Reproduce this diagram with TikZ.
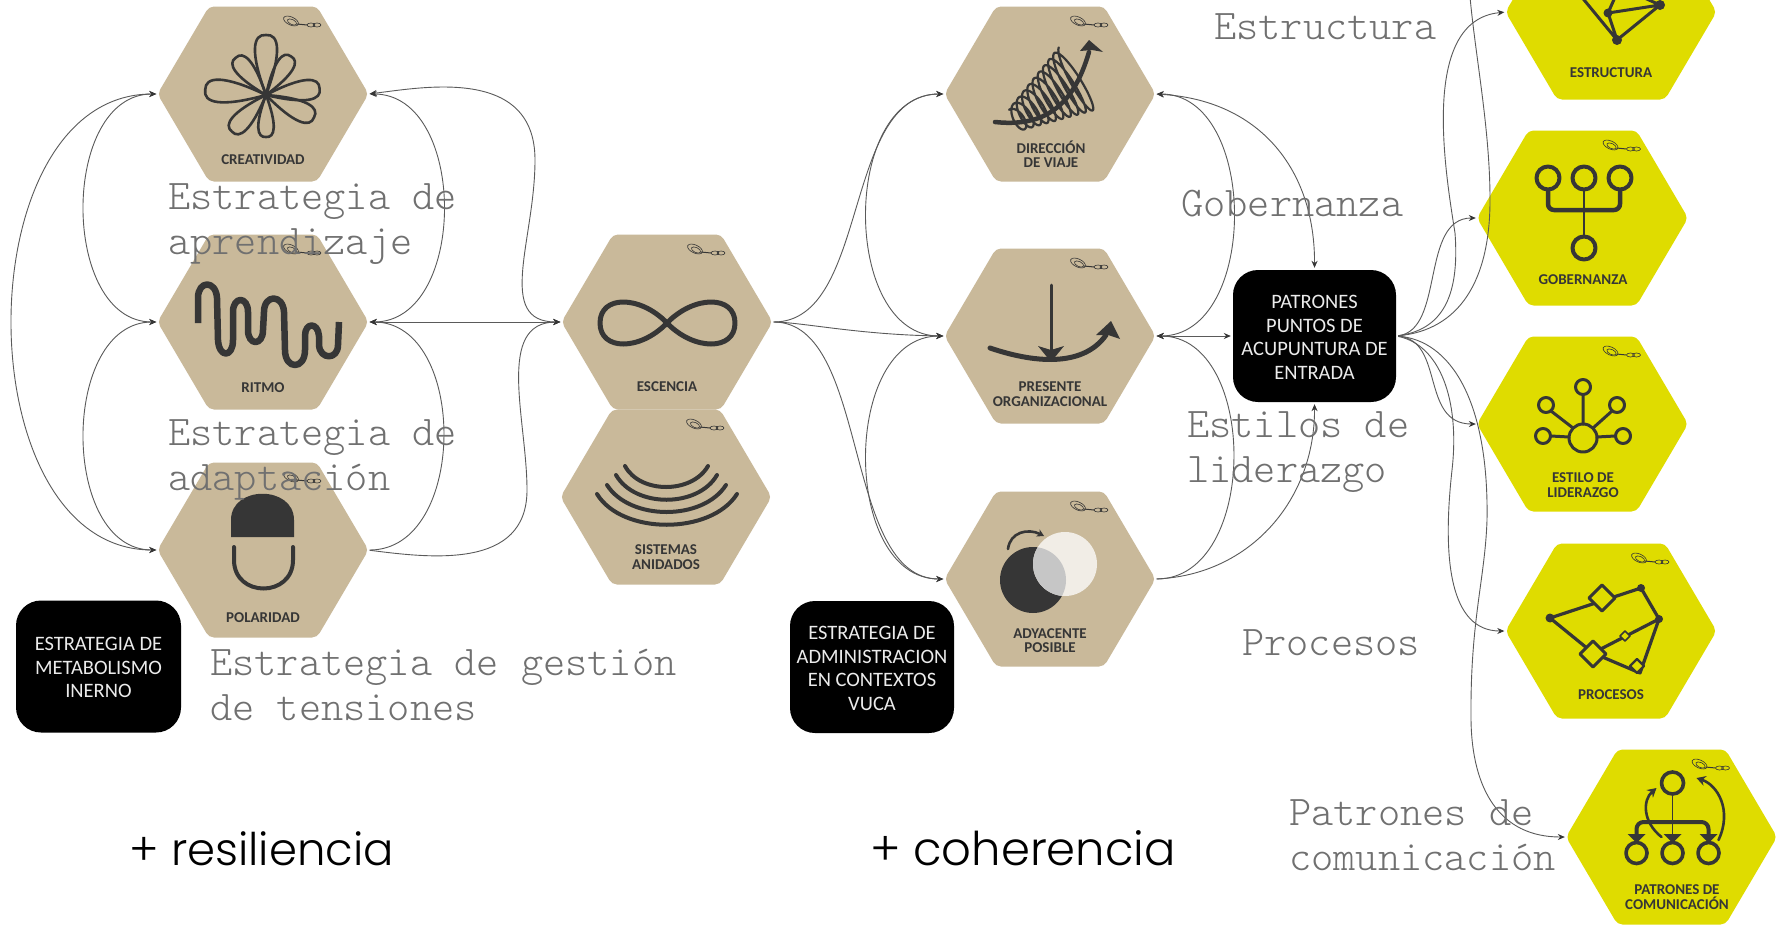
\documentclass[tikz,border=0pt]{standalone}
\usepackage{fontspec}
\usetikzlibrary{arrows.meta,calc}
\newfontfamily\monof{Latin Modern Mono Light}
\newfontfamily\boxf{Carlito}
\newfontfamily\labf{Carlito}
\newfontfamily\gothf{Poppins Light}
\definecolor{tan}{HTML}{C9B99A}
\definecolor{lime}{HTML}{DFDC00}
\definecolor{ink}{HTML}{363636}
\definecolor{wire}{HTML}{5A5A5A}
\definecolor{graytxt}{HTML}{707070}
\newcommand\boxtop{\rule{0pt}{16pt}}
\tikzset{
  x=1pt,y=-1pt,
  hexbody/.style={rectangle,minimum width=209pt,minimum height=175pt,inner sep=0pt},
  hexlabel/.style={font=\labf\bfseries\fontsize{15}{14.5}\selectfont,text=ink,align=center,inner sep=0pt},
  blackbox/.style={rectangle,rounded corners=25pt,fill=black,text=white!92!black,align=center,inner sep=0pt,font=\boxf\fontsize{20.5}{23.5}\selectfont},
  note/.style={font=\monof\fontsize{42.3}{45}\selectfont,text=graytxt,align=left,inner sep=0pt,anchor=north west},
  link/.style={draw=wire,line width=0.9pt,shorten >=2pt,shorten <=2pt},
  both/.style={link,{Stealth[length=7pt,width=6pt,color=ink]}-{Stealth[length=7pt,width=6pt,color=ink]}},
  one/.style={link,-{Stealth[length=7pt,width=6pt,color=ink]}},
  plain/.style={link},
  icon/.style={draw=ink,line cap=round,line join=round},
  logo/.style={draw=ink,line width=0.6pt},
}
\newcommand\hexa[4]{%
  \begin{scope}[shift={(#2,#3)}]
    \fill[#4,rounded corners=5pt] (-105.5,0) -- (-54,-87.5) -- (54,-87.5) -- (105.5,0) -- (54,87.5) -- (-54,87.5) -- cycle;
    \node[hexbody] (#1) at (0,0) {};
    \draw[logo] (28,-73) ellipse [x radius=8pt,y radius=4pt,rotate=-25];
    \draw[logo] (29,-72) ellipse [x radius=5pt,y radius=2.5pt,rotate=-25];
    \draw[logo,line width=1pt] (34,-70) -- (44,-69);
    \draw[logo] (48,-69) ellipse [x radius=4pt,y radius=2pt];
    \draw[logo] (54,-69) ellipse [x radius=4pt,y radius=2pt];
  \end{scope}}
\newcommand\petal[2]{%
  \draw[icon,line width=2.6pt,rotate=#2] (0pt,0pt) .. controls (#1*.72pt,#1*.27pt) and (#1*1.02pt,#1*.22pt) .. (#1*1pt,0pt) .. controls (#1*1.02pt,-#1*.22pt) and (#1*.72pt,-#1*.27pt) .. (0pt,0pt);}
\begin{document}
\begin{tikzpicture}
\useasboundingbox (0,0) rectangle (1779,926);
\clip (0,0) rectangle (1779,926);
\fill[white] (0,0) rectangle (1779,926);
% hexagons
\hexa{creat}{263}{94}{tan}
\hexa{ritmo}{263}{322}{tan}
\hexa{polar}{263}{550}{tan}
\hexa{escen}{667}{322}{tan}
\hexa{siste}{666}{497}{tan}
\hexa{direc}{1050}{94}{tan}
\hexa{prese}{1050}{336}{tan}
\hexa{adyac}{1050}{579}{tan}
\hexa{estru}{1611}{12}{lime}
\hexa{gober}{1582.5}{218}{lime}
\hexa{estil}{1582.5}{424}{lime}
\hexa{proce}{1611}{631}{lime}
\hexa{comun}{1671.5}{837}{lime}
% hexagon labels
\node[hexlabel] (lcreat) at (263,160) {CREATIVIDAD};
\node[hexlabel] (lritmo) at (263,388) {RITMO};
\node[hexlabel] (lpolar) at (263,618) {POLARIDAD};
\node[hexlabel] (lescen) at (667,387) {ESCENCIA};
\node[hexlabel] (lsiste) at (666,557) {SISTEMAS\\ANIDADOS};
\node[hexlabel] (ldirec) at (1051,154.5) {DIRECCIÓN\\DE VIAJE};
\node[hexlabel] (lprese) at (1050,394) {PRESENTE\\ORGANIZACIONAL};
\node[hexlabel] (ladyac) at (1050,640.5) {ADYACENTE\\POSIBLE};
\node[hexlabel] (lestru) at (1611,73) {ESTRUCTURA};
\node[hexlabel] (lgober) at (1583,279.5) {GOBERNANZA};
\node[hexlabel] (lestil) at (1583,485) {ESTILO DE\\LIDERAZGO};
\node[hexlabel] (lproce) at (1611,694.5) {PROCESOS};
\node[hexlabel] (lcomun) at (1677,897) {PATRONES DE\\COMUNICACIÓN};
% icon: flower
\begin{scope}[shift={(266,95)}]
\petal{60}{90}\petal{46}{57}\petal{54}{7}\petal{53}{-25}\petal{42}{-90}\petal{50}{-133}\petal{61}{175}\petal{48}{129}
\end{scope}
% icon: rhythm
\draw[icon,line width=6.5pt,line cap=butt] (198,323) -- (198,298) .. controls (198,280) and (216,280) .. (217,298) -- (218,340) .. controls (219,358) and (233,358) .. (233,340) -- (233,312) .. controls (233,296) and (248,296) .. (248,312) -- (248,330) .. controls (248,346) and (263,346) .. (263,330) -- (264,312) .. controls (264,294) and (283,294) .. (284,312) -- (285,350) .. controls (285,370) and (305,370) .. (305,350) -- (305,336) .. controls (305,322) and (318,322) .. (319,336) -- (319,345) .. controls (320,360) and (338,360) .. (338,345) -- (339,322);
% icon: polarity
\fill[ink] (231,537) -- (231,520) .. controls (231,485) and (294,485) .. (294,520) -- (294,537) -- cycle;
\draw[icon,line width=4pt] (234,547) -- (234,560) .. controls (234,598) and (293,598) .. (293,560) -- (293,547);
% icon: infinity
\draw[icon,line width=5pt] (667,323) .. controls (640,295) and (600,295) .. (600,323) .. controls (600,351) and (640,351) .. (667,323) .. controls (694,295) and (735,295) .. (735,323) .. controls (735,351) and (694,351) .. (667,323);
% icon: nested arcs
\draw[icon,line width=4pt] (625,466) .. controls (640,494) and (692,494) .. (708,466);
\draw[icon,line width=4pt] (616,475) .. controls (635,508) and (698,508) .. (717,475);
\draw[icon,line width=4pt] (607,485) .. controls (630,521) and (703,521) .. (726,485);
\draw[icon,line width=4pt] (597,494) .. controls (622,535) and (711,535) .. (737,494);
% icon: direction
\draw[icon,line width=2.2pt] plot[domain=0:1,samples=320,variable=\t,smooth] ({1015+63*\t+(12+25*\t)*cos(\t*3600)*(-.5)+7*sin(\t*3600)*.85},{120-42*\t+(12+25*\t)*cos(\t*3600)*(-.85)+7*sin(\t*3600)*(-.5)});
\draw[icon,line width=4.5pt] (995,122) .. controls (1050,128) and (1075,100) .. (1089,52);
\fill[ink] (1089,40) -- (1103,52) -- (1092,50) -- (1080,51) -- cycle;
% icon: present
\draw[icon,line width=3pt] (1051,285) -- (1051,350);
\fill[ink] (1051,362) -- (1038,346) -- (1051,350) -- (1064,346) -- cycle;
\draw[icon,line width=5pt] (990,348) .. controls (1040,365) and (1085,365) .. (1106,335);
\fill[ink] (1111,321) -- (1120,339) -- (1108,335) -- (1096,335) -- cycle;
% icon: adjacent
\fill[ink] (1033,580) circle (33);
\fill[white!75!tan] (1065,564) circle (32);
\begin{scope}
\clip (1033,580) circle (33);
\fill[gray!45!white] (1065,564) circle (32);
\end{scope}
\draw[icon,line width=2.6pt,-{Stealth[length=7pt,width=8pt]}] (1008,549) .. controls (1010,532) and (1028,528) .. (1044,536);
% yellow icons
\begin{scope}[shift={(-2,0)}]
% icon: structure
\draw[icon,line width=3pt] (1582,-5) -- (1619,40) -- (1610,13) -- (1618,-5) (1610,13) -- (1662,5) -- (1619,40) (1662,5) -- (1640,-5);
\fill[ink] (1610,13) circle (4.5) (1662,5) circle (5) (1619,40) circle (5);
% icon: governance
\draw[icon,line width=4pt] (1550,178) circle (11.5) (1586,178) circle (11.5) (1622,178) circle (11.5) (1586,248) circle (11.5);
\draw[icon,line width=4.5pt,rounded corners=6pt] (1550,190) -- (1550,210) -- (1622,210) -- (1622,190);
\draw[icon,line width=1.6pt] (1586,190) -- (1586,236);
% icon: leadership
\draw[icon,line width=3pt] (1585,438) circle (14) (1585,387) circle (7.5) (1548,405) circle (7.5) (1619,405) circle (7.5) (1545,436) circle (7.5) (1625,436) circle (7.5);
\draw[icon,line width=3pt] (1585,424) -- (1585,395) (1575,428) -- (1553,411) (1595,428) -- (1614,411) (1571,437) -- (1553,436) (1599,437) -- (1617,436);
% icon: processes
\draw[icon,line width=3.2pt] (1552,618) -- (1643,588) -- (1661,619) -- (1642,673) -- (1595,653) -- (1552,618) (1595,653) -- (1661,619);
\fill[ink] (1552,618) circle (4.5) (1643,588) circle (4) (1661,619) circle (4);
\draw[icon,line width=3pt,fill=lime] (1604,585) -- (1617,598) -- (1604,611) -- (1591,598) -- cycle;
\draw[icon,line width=3pt,fill=lime] (1595,641) -- (1608,654) -- (1595,667) -- (1582,654) -- cycle;
\draw[icon,line width=1.6pt,fill=lime] (1627,631) -- (1632,636) -- (1627,641) -- (1622,636) -- cycle;
\draw[icon,line width=2.4pt,fill=lime] (1639,659) -- (1646,666) -- (1639,673) -- (1632,666) -- cycle;
\end{scope}
% icon: communication
\begin{scope}[shift={(-2.5,0)}]
\draw[icon,line width=3.6pt] (1675,783) circle (11) (1639,853) circle (10.5) (1675,853) circle (10.5) (1711,853) circle (10.5);
\draw[icon,line width=1.4pt] (1675,795) -- (1675,840);
\draw[icon,line width=4pt,rounded corners=7pt] (1639,838) -- (1639,822) -- (1711,822) -- (1711,838);
\fill[ink] (1639,843) -- (1630,834) -- (1648,834) -- cycle (1675,843) -- (1666,834) -- (1684,834) -- cycle (1711,843) -- (1702,834) -- (1720,834) -- cycle;
\draw[icon,line width=2.6pt,-{Stealth[length=9pt,width=10pt]}] (1664,837) .. controls (1645,822) and (1645,800) .. (1659,788);
\draw[icon,line width=2.6pt,-{Stealth[length=9pt,width=10pt]}] (1721,840) .. controls (1735,810) and (1720,785) .. (1699,778);
\end{scope}
% black boxes
\node[blackbox,minimum width=165pt,minimum height=132pt] (meta) at (98.5,666.5) {\boxtop ESTRATEGIA DE\\METABOLISMO\\INERNO};
\node[blackbox,minimum width=164pt,minimum height=132pt] (admin) at (872,667) {\boxtop ESTRATEGIA DE\\ADMINISTRACION\\EN CONTEXTOS\\VUCA};
\node[blackbox,minimum width=163pt,minimum height=132pt] (patro) at (1314.5,336) {\boxtop PATRONES\\PUNTOS DE\\ACUPUNTURA DE\\ENTRADA};
% connectors, left group
\draw[both] (creat.west) .. controls (60,94) and (60,322) .. (ritmo.west);
\draw[both] (creat.west) .. controls (-36,94) and (-36,550) .. (polar.west);
\draw[both] (ritmo.west) .. controls (60,322) and (60,550) .. (polar.west);
\draw[both] (creat.east) .. controls (468,94) and (468,322) .. (ritmo.east);
\draw[one] (polar.east) .. controls (468,550) and (468,322) .. (ritmo.east);
\draw[both] (creat.east) .. controls (420,88) and (535,65) .. (535,160) .. controls (535,240) and (495,322) .. (escen.west);
\draw[both] (ritmo.east) -- (escen.west);
\draw[one] (polar.east) .. controls (430,558) and (527,570) .. (527,490) .. controls (527,420) and (495,322) .. (escen.west);
% connectors, middle group
\draw[one] (escen.east) .. controls (870,322) and (842,94) .. (direc.west);
\draw[one] (escen.east) .. controls (800,322) and (860,335) .. (prese.west);
\draw[one] (escen.east) .. controls (870,322) and (842,579) .. (adyac.west);
\draw[both] (direc.west) .. controls (841,94) and (841,336) .. (prese.west);
\draw[both] (prese.west) .. controls (841,336) and (841,579) .. (adyac.west);
\draw[both] (direc.east) .. controls (1259,94) and (1259,336) .. (prese.east);
\draw[one] (adyac.east) .. controls (1259,579) and (1259,336) .. (prese.east);
\draw[both] (direc.east) .. controls (1260,100) and (1315,170) .. (patro.north);
\draw[one] (adyac.east) .. controls (1250,575) and (1315,500) .. (patro.south);
\draw[both] (prese.east) -- (patro.west);
% connectors, right group
\coordinate (topout) at (1470,-3);
\draw[one] (patro.east) .. controls (1440,330) and (1460,300) .. (1455,233) .. controls (1445,170) and (1420,20) .. (estru.west);
\draw[one] (patro.east) .. controls (1445,330) and (1420,218) .. (gober.west);
\draw[one] (patro.east) .. controls (1445,340) and (1420,424) .. (estil.west);
\draw[one] (patro.east) .. controls (1440,345) and (1460,400) .. (1452,470) .. controls (1442,560) and (1450,631) .. (proce.west);
\draw[plain] (patro.east) .. controls (1460,330) and (1490,280) .. (1490,200) .. controls (1490,130) and (1476,60) .. (topout);
\draw[one] (patro.east) .. controls (1450,340) and (1489,400) .. (1487,520) .. controls (1485,580) and (1470,620) .. (1471,720) .. controls (1472,790) and (1500,837) .. (comun.west);
% texts
\node[note] (t1) at (168,183.5) {Estrategia de\\aprendizaje};
\node[note] (t2) at (168,419.5) {Estrategia de\\adaptación};
\node[note] (t3) at (210,648.5) {Estrategia de gestión\\de tensiones};
\node[note] (t4) at (1214,13.5) {Estructura};
\node[note] (t5) at (1181,189.5) {Gobernanza};
\node[note] (t6) at (1187,411) {Estilos de\\liderazgo};
\node[note] (t7) at (1242,629.5) {Procesos};
\node[note] (t8) at (1289,799.5) {Patrones de\\comunicación};
\node[font=\gothf\fontsize{45}{50}\selectfont,inner sep=0pt,anchor=base west] (r1) at (129,865) {+ resiliencia};
\node[font=\gothf\fontsize{46.5}{50}\selectfont,inner sep=0pt,anchor=base west] (r2) at (870,865) {+ coherencia};
\end{tikzpicture}
\end{document}
